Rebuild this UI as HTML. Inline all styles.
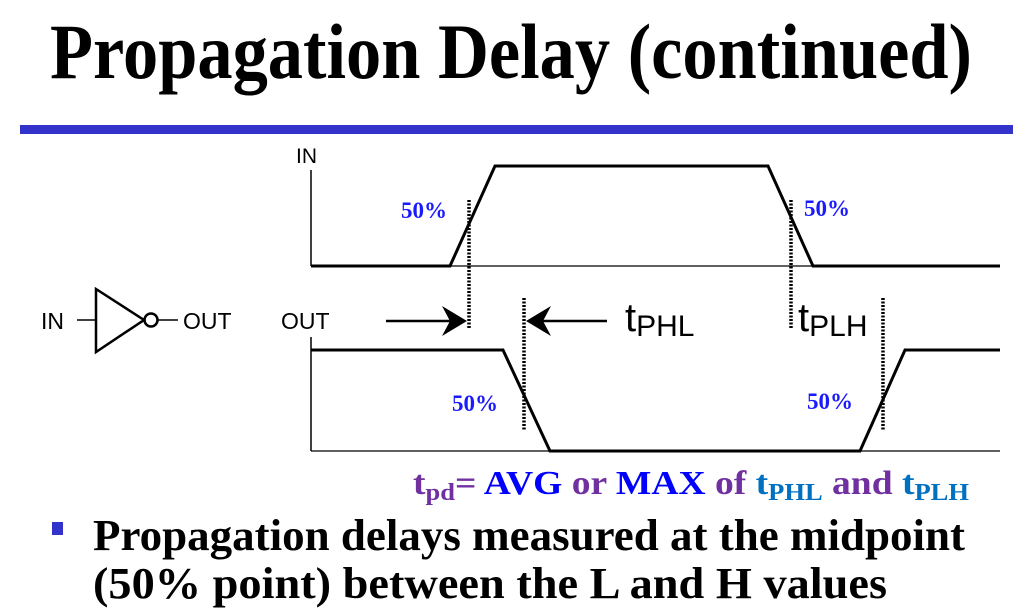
<!DOCTYPE html>
<html><head><meta charset="utf-8"><style>
html,body{margin:0;padding:0;background:#fff;width:1013px;height:612px;overflow:hidden}
</style></head><body>
<svg width="1013" height="612" viewBox="0 0 1013 612" xmlns="http://www.w3.org/2000/svg">
<text x="50" y="78" font-family="Liberation Serif, serif" font-weight="bold" font-size="78" textLength="922" lengthAdjust="spacingAndGlyphs">Propagation Delay (continued)</text>
<rect x="20" y="125" width="993" height="9" fill="#3333cc"/>

<g font-family="Liberation Sans, sans-serif" font-size="23" fill="#000">
<text x="41" y="329">IN</text>
<text x="183" y="329">OUT</text>
<text x="296" y="163" font-size="21">IN</text>
<text x="281" y="329">OUT</text>
</g>
<g stroke="#000" fill="none">
<line x1="77" y1="320" x2="96" y2="320" stroke-width="1.5"/>
<polygon points="96,289 96,352 144,320" stroke-width="2.5"/>
<circle cx="151" cy="320" r="6.5" stroke-width="2.5"/>
<line x1="158" y1="320" x2="178" y2="320" stroke-width="1.5"/>
</g>

<g stroke="#000" fill="none">
<line x1="311" y1="170" x2="311" y2="266" stroke-width="1.5"/>
<line x1="311" y1="337" x2="311" y2="451" stroke-width="1.5"/>
<line x1="311" y1="266" x2="1000" y2="266" stroke-width="1.2"/>
<line x1="311" y1="451" x2="1000" y2="451" stroke-width="1.2"/>
<polyline points="311,266 450,266 495,166 768,166 813,266 1000,266" stroke-width="3"/>
<polyline points="311,350 503,350 550,451 860,451 905,350 1000,350" stroke-width="3"/>
<g stroke-width="3.5" stroke-dasharray="2,1.5">
<line x1="469" y1="200" x2="469" y2="328"/>
<line x1="524" y1="298" x2="524" y2="430"/>
<line x1="791" y1="200" x2="791" y2="328"/>
<line x1="883" y1="298" x2="883" y2="430"/>
</g>
<line x1="386" y1="321" x2="455" y2="321" stroke-width="2.5"/>
<line x1="540" y1="321" x2="607" y2="321" stroke-width="2.5"/>
</g>
<polygon points="467,321 442,306 450,321 442,336" fill="#000"/>
<polygon points="526,321 551,306 543,321 551,336" fill="#000"/>

<g font-family="Liberation Sans, sans-serif" fill="#000">
<text x="625" y="331" font-size="40">t<tspan font-size="30" dy="5">PHL</tspan></text>
<text x="798" y="331" font-size="40">t<tspan font-size="30" dy="5">PLH</tspan></text>
</g>
<g font-family="Liberation Serif, serif" font-weight="bold" font-size="23" fill="#1a1aff">
<text x="401" y="218">50%</text>
<text x="804" y="216">50%</text>
<text x="452" y="411">50%</text>
<text x="807" y="409">50%</text>
</g>

<text x="413" y="494" font-family="Liberation Serif, serif" font-weight="bold" font-size="34" textLength="556" lengthAdjust="spacingAndGlyphs"><tspan fill="#7030a0">t<tspan font-size="24" dy="6">pd</tspan><tspan dy="-6">=</tspan></tspan><tspan fill="#0000ff"> AVG </tspan><tspan fill="#7030a0">or </tspan><tspan fill="#0000ff">MAX </tspan><tspan fill="#7030a0">of </tspan><tspan fill="#0070c0">t<tspan font-size="24" dy="6">PHL</tspan></tspan><tspan fill="#7030a0" dy="-6"> and </tspan><tspan fill="#0070c0">t<tspan font-size="24" dy="6">PLH</tspan></tspan></text>

<rect x="52" y="522" width="11" height="13" fill="#3333cc"/>
<text x="93" y="550" font-family="Liberation Serif, serif" font-weight="bold" font-size="44" textLength="872" lengthAdjust="spacingAndGlyphs">Propagation delays measured at the midpoint</text>
<text x="93" y="598" font-family="Liberation Serif, serif" font-weight="bold" font-size="44" textLength="794" lengthAdjust="spacingAndGlyphs">(50% point) between the L and H values</text>
</svg>
</body></html>
